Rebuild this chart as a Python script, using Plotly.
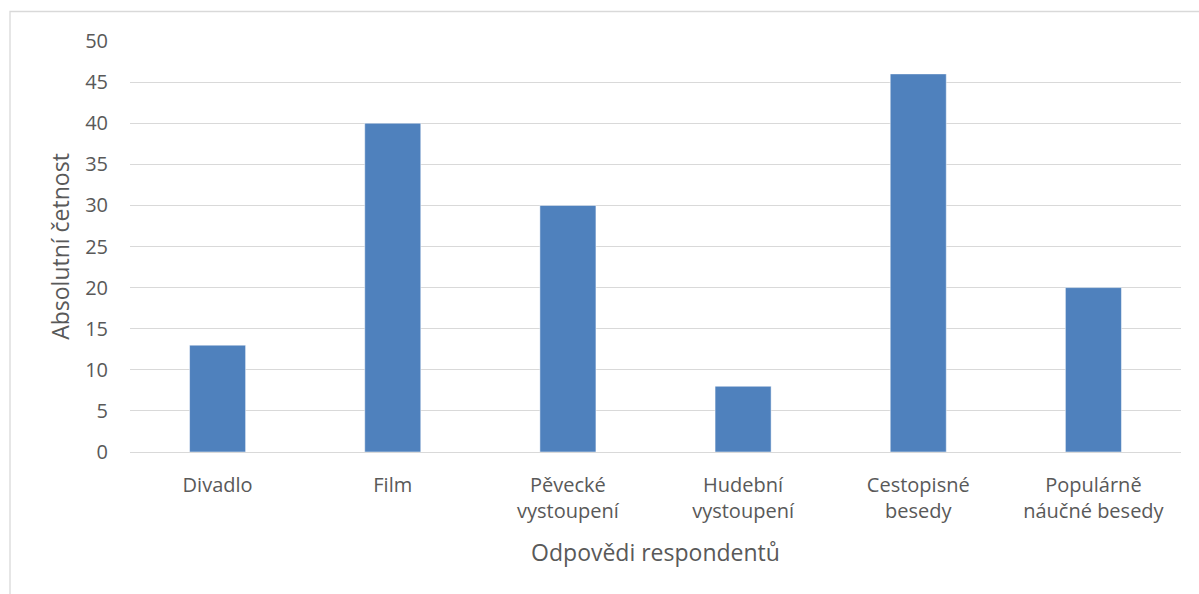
import plotly.graph_objects as go

categories = ["Divadlo", "Film", "Pěvecké<br>vystoupení", "Hudební<br>vystoupení",
              "Cestopisné<br>besedy", "Populárně<br>náučné besedy"]
counts = [13, 40, 30, 8, 46, 20]
y_ticks = [0, 5, 10, 15, 20, 25, 30, 35, 40, 45, 50]

W, H = 1199, 594
ml, mr, mt, mb = 130, 18, 41, 142
pw, ph = W - ml - mr, H - mt - mb

text_color = "#595959"
grid_color = "#D9D9D9"
font_family = "Open Sans"

fig = go.Figure(
    go.Bar(
        x=categories,
        y=counts,
        marker=dict(color="#4F81BD", line=dict(color="#FFFFFF", width=0.5)),
    )
)

# outer chart frame, partly cut off at the right and bottom edges
fig.add_shape(
    type="rect", xref="paper", yref="paper",
    x0=(10 - ml) / pw, x1=(W + 10 - ml) / pw,
    y0=(H - mb - (H + 10)) / ph, y1=(H - mb - 11.5) / ph,
    line=dict(color=grid_color, width=1.3), fillcolor="rgba(0,0,0,0)", layer="below",
)

fig.update_layout(
    width=W, height=H,
    margin=dict(l=ml, r=mr, t=mt, b=mb),
    paper_bgcolor="white", plot_bgcolor="white",
    bargap=0.68,
    showlegend=False,
    font=dict(family=font_family, color=text_color, size=20),
    xaxis=dict(
        showgrid=False, showline=False, zeroline=False,
        ticks="", tickfont=dict(size=20, color=text_color),
        ticklabelstandoff=19,
        title=dict(text="Odpovědi respondentů", font=dict(size=23, color=text_color), standoff=21),
    ),
    yaxis=dict(
        range=[0, 50], tickvals=y_ticks,
        showgrid=True, gridcolor=grid_color, gridwidth=1.3,
        zeroline=True, zerolinecolor=grid_color, zerolinewidth=1.3,
        showline=False, ticks="",
        tickfont=dict(size=20, color=text_color),
        ticklabelstandoff=21,
        title=dict(text="Absolutní četnost", font=dict(size=23, color=text_color), standoff=9),
    ),
)

fig.write_html("out.html")
